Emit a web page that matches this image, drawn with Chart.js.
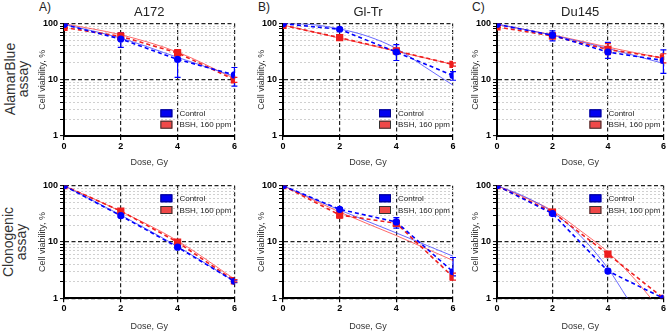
<!DOCTYPE html>
<html lang="en">
<head>
  <meta charset="UTF-8" />
  <title>Cell viability vs dose</title>
  <script src="https://cdn.jsdelivr.net/npm/chart.js"></script>
  <style>
    body {
      margin: 0;
      background: #fff;
      font-family: 'Liberation Sans', Arial, sans-serif;
    }
    #wrap {
      position: relative;
      width: 669px;
      height: 332px;
      overflow: hidden;
    }
    canvas { position: absolute; }
    .letter {
      position: absolute;
      font-size: 12px;
      line-height: 12px;
      color: #222;
    }
    .rowlab {
      position: absolute;
      font-size: 14px;
      line-height: 13px;
      color: #333;
      text-align: center;
      white-space: nowrap;
      transform: translate(-50%, -50%) rotate(-90deg);
    }
  </style>
</head>
<body>
  <div id="wrap">
    <div class="rowlab" style="left:16.5px;top:79px">AlamarBlue<br>assay</div>
    <div class="rowlab" style="left:14.5px;top:242px">Clonogenic<br>assay</div>
  </div>

  <script>
    const doses = [0, 2, 4, 6];
    const seriesNames = ['Control', 'BSH, 160 ppm'];
    const cellLines = ['A172', 'Gl-Tr', 'Du145'];
    const panelLetters = ['A)', 'B)', 'C)'];

    // AlamarBlue assay, viability %
    const abA172Control = [96, 53, 23, 12.2];
    const abA172Bsh = [85, 59, 30, 10];
    const abA172ControlErr = [null, [37.5, 69], [11, 33], [7.7, 16.5]];
    const abA172BshErr = [null, [50, 68], [27, 34.5], [9, 11]];
    const abA172ControlFit = [97, 55, 25, 11.5];
    const abA172BshFit = [99, 63, 31, 10.5];

    const abGlTrControl = [99, 79, 31, 11.9];
    const abGlTrBsh = [93, 56, 32.6, 18.7];
    const abGlTrControlErr = [null, [76, 83], [22, 42], [9.8, 14]];
    const abGlTrBshErr = [null, [53, 59], [29, 36], [17.5, 20]];
    const abGlTrControlFitDoses = [0, 1, 2, 3, 4, 5, 6];
    const abGlTrControlFit = [100, 96, 80, 59, 36, 17, 8];
    const abGlTrBshFit = [94, 55, 32, 18.7];

    const abDu145Control = [96, 62, 31, 22];
    const abDu145Bsh = [87, 60, 34.5, 24.5];
    const abDu145ControlErr = [null, [49, 74], [24, 46], [13, 34]];
    const abDu145BshErr = [null, [53, 67], [28, 44], [20, 29]];
    const abDu145ControlFit = [98, 62, 36, 19.5];
    const abDu145BshFit = [96, 63, 38, 24];

    // Clonogenic assay, viability %
    const clA172Control = [100, 29.3, 8.1, 2.0];
    const clA172Bsh = [100, 35.5, 9.9, 2.05];
    const clA172ControlErr = [null, [27.5, 31], [7.6, 8.6], [1.9, 2.1]];
    const clA172BshErr = [null, [33.5, 37.5], [9.4, 10.4], [1.95, 2.15]];
    const clA172ControlFit = [100, 30, 8.3, 2.0];
    const clA172BshFit = [100, 35, 10.5, 2.2];

    const clGlTrControl = [100, 38, 22.7, 2.96];
    const clGlTrBsh = [100, 30.2, 21.5, 2.4];
    const clGlTrControlErr = [null, [35, 41], [17.6, 27], [2.5, 5.3]];
    const clGlTrBshErr = [null, [26.4, 34.5], [19, 24], [2.1, 2.8]];
    const clGlTrControlFit = [100, 37, 14.5, 5.6];
    const clGlTrBshFit = [100, 34, 13, 4.7];

    const clDu145Control = [100, 32, 3.05, 1];
    const clDu145Bsh = [100, 34, 6.1, 1];
    const clDu145ControlErr = [null, [30, 34], [2.8, 3.3], null];
    const clDu145BshErr = [null, [32, 36], [5.7, 6.5], null];
    const clDu145ControlFitDoses = [0, 1, 2, 3, 4, 4.7];
    const clDu145ControlFit = [100, 64, 34, 13, 3.4, 1];
    const clDu145BshFitDoses = [0, 1, 2, 3, 4, 5, 5.55];
    const clDu145BshFit = [100, 62, 36, 16, 6.6, 2.1, 1];

    const BLUE = 'rgb(0,0,255)';
    const RED = 'rgb(238,30,30)';
    const BLUE_FIT = 'rgba(80,80,255,0.85)';
    const RED_FIT = 'rgba(255,80,80,0.85)';
    const legendFill = ['rgb(0,0,240)', 'rgb(240,72,72)'];
    const legendEdge = ['#00008a', '#333'];

    Chart.defaults.font.family = "'Liberation Sans', Arial, sans-serif";

    const isPow10 = v => Math.abs(Math.log10(v) - Math.round(Math.log10(v))) < 1e-9;
    const isDecadeStep = v => {
      const m = v / Math.pow(10, Math.floor(Math.log10(v) + 1e-9));
      return Math.abs(m - Math.round(m)) < 1e-6;
    };
    const pts = (xs, ys) => xs.map((x, i) => ({ x, y: ys[i] }));

    const errorBars = {
      id: 'errorBars',
      beforeDatasetsDraw(chart) {
        const { ctx, scales: { x, y } } = chart;
        chart.data.datasets.forEach(ds => {
          if (!ds.errors) return;
          ctx.save();
          ctx.strokeStyle = ds.borderColor;
          ctx.lineWidth = 1.2;
          ds.errors.forEach((e, i) => {
            if (!e) return;
            const px = x.getPixelForValue(ds.data[i].x);
            const lo = y.getPixelForValue(e[0]);
            const hi = y.getPixelForValue(e[1]);
            ctx.beginPath();
            ctx.moveTo(px, lo); ctx.lineTo(px, hi);
            ctx.moveTo(px - 3, lo); ctx.lineTo(px + 3, lo);
            ctx.moveTo(px - 3, hi); ctx.lineTo(px + 3, hi);
            ctx.stroke();
          });
          ctx.restore();
        });
      }
    };

    const insideLegend = {
      id: 'insideLegend',
      afterDatasetsDraw(chart, args, opts) {
        const { ctx, chartArea } = chart;
        const bx = chartArea.right - 74;
        const tops = opts.place === 'top'
          ? [chartArea.top + 8.6, chartArea.top + 20.3]
          : [chartArea.bottom - 26.7, chartArea.bottom - 15.3];
        ctx.save();
        seriesNames.forEach((name, i) => {
          ctx.fillStyle = legendFill[i];
          ctx.fillRect(bx, tops[i], 12, 8);
          ctx.strokeStyle = legendEdge[i];
          ctx.lineWidth = 1;
          ctx.strokeRect(bx + 0.5, tops[i] + 0.5, 11, 7);
          ctx.fillStyle = '#222';
          ctx.font = "8px 'Liberation Sans', Arial, sans-serif";
          ctx.textBaseline = 'middle';
          ctx.textAlign = 'left';
          ctx.fillText(name, bx + 19, tops[i] + 4.5);
        });
        ctx.restore();
      }
    };

    function datasetsFor(ctrl, bsh, ctrlErr, bshErr, ctrlFitX, ctrlFit, bshFitX, bshFit) {
      return [
        { label: seriesNames[0], data: pts(doses, ctrl), errors: ctrlErr, order: 1,
          borderColor: BLUE, backgroundColor: BLUE, borderWidth: 1.6, borderDash: [4, 3],
          pointStyle: 'circle', pointRadius: 2.8, pointBackgroundColor: BLUE, pointBorderColor: BLUE },
        { label: seriesNames[1], data: pts(doses, bsh), errors: bshErr, order: 2,
          borderColor: RED, backgroundColor: RED, borderWidth: 1.6, borderDash: [4, 3],
          pointStyle: 'rect', pointRadius: 4, pointBackgroundColor: RED, pointBorderColor: RED },
        { label: 'fit ' + seriesNames[0], data: pts(ctrlFitX, ctrlFit), order: 3, clip: 0,
          borderColor: BLUE_FIT, borderWidth: 1, pointRadius: 0, cubicInterpolationMode: 'monotone' },
        { label: 'fit ' + seriesNames[1], data: pts(bshFitX, bshFit), order: 4, clip: 0,
          borderColor: RED_FIT, borderWidth: 1, pointRadius: 0, cubicInterpolationMode: 'monotone' }
      ];
    }

    const panels = [
      { row: 0, col: 0, ds: datasetsFor(abA172Control, abA172Bsh, abA172ControlErr, abA172BshErr, doses, abA172ControlFit, doses, abA172BshFit) },
      { row: 0, col: 1, ds: datasetsFor(abGlTrControl, abGlTrBsh, abGlTrControlErr, abGlTrBshErr, abGlTrControlFitDoses, abGlTrControlFit, doses, abGlTrBshFit) },
      { row: 0, col: 2, ds: datasetsFor(abDu145Control, abDu145Bsh, abDu145ControlErr, abDu145BshErr, doses, abDu145ControlFit, doses, abDu145BshFit) },
      { row: 1, col: 0, ds: datasetsFor(clA172Control, clA172Bsh, clA172ControlErr, clA172BshErr, doses, clA172ControlFit, doses, clA172BshFit) },
      { row: 1, col: 1, ds: datasetsFor(clGlTrControl, clGlTrBsh, clGlTrControlErr, clGlTrBshErr, doses, clGlTrControlFit, doses, clGlTrBshFit) },
      { row: 1, col: 2, ds: datasetsFor(clDu145Control, clDu145Bsh, clDu145ControlErr, clDu145BshErr, clDu145ControlFitDoses, clDu145ControlFit, clDu145BshFitDoses, clDu145BshFit) }
    ];

    // canvas placement: left edge, width, right padding per column; top, height per row
    const colBox = [{ left: 34, width: 206, padRight: 5.5 }, { left: 253, width: 206, padRight: 6 }, { left: 467, width: 202, padRight: 4 }];
    const rowBox = [{ top: 0, height: 168, padTop: 0, xAxisH: 32 }, { top: 168, height: 164, padTop: 17.7, xAxisH: 33.7 }];

    const wrap = document.getElementById('wrap');

    panelLetters.forEach((t, c) => {
      const d = document.createElement('div');
      d.className = 'letter';
      d.style.left = (colBox[c].left + 5) + 'px';
      d.style.top = '1px';
      d.textContent = t;
      wrap.appendChild(d);
    });

    panels.forEach((p, i) => {
      const cb = colBox[p.col], rb = rowBox[p.row];
      const cv = document.createElement('canvas');
      cv.width = cb.width; cv.height = rb.height;
      cv.style.left = cb.left + 'px'; cv.style.top = rb.top + 'px';
      cv.style.width = cb.width + 'px'; cv.style.height = rb.height + 'px';
      wrap.appendChild(cv);

      new Chart(cv, {
        type: 'line',
        data: { datasets: p.ds },
        options: {
          responsive: false,
          animation: false,
          devicePixelRatio: 1,
          layout: { padding: { top: rb.padTop, right: cb.padRight, left: 0, bottom: 0 } },
          plugins: {
            legend: { display: false },
            tooltip: { enabled: false },
            title: {
              display: p.row === 0,
              text: cellLines[p.col],
              fullSize: false,
              color: '#222',
              font: { size: 13, weight: 'normal' },
              padding: { top: 4.9, bottom: 3 }
            },
            insideLegend: { place: p.row === 0 ? 'bottom' : 'top' }
          },
          scales: {
            x: {
              type: 'linear',
              min: 0,
              max: 6,
              afterFit: s => { s.height = rb.xAxisH; },
              ticks: { stepSize: 2, color: '#000', font: { size: 9, weight: 'bold' }, padding: 1, maxRotation: 0 },
              grid: { color: '#222', lineWidth: 1.2, tickLength: 4, tickColor: '#000', tickWidth: 1.2 },
              border: { color: '#000', width: 2, dash: [4, 2.5] },
              title: { display: true, text: 'Dose, Gy', color: '#333', font: { size: 9 }, padding: { top: 0, bottom: 0 } }
            },
            y: {
              type: 'logarithmic',
              min: 1,
              max: 100,
              afterFit: s => { s.width = 30; },
              afterBuildTicks: s => { s.ticks = s.ticks.filter(t => isDecadeStep(t.value)); },
              ticks: {
                autoSkip: false,
                color: '#000',
                font: { size: 9, weight: 'bold' },
                padding: 2,
                callback: v => isPow10(v) ? String(Math.round(v)) : ''
              },
              grid: {
                color: c => (c.tick && isPow10(c.tick.value)) ? '#222' : '#c4c4c4',
                lineWidth: c => (c.tick && isPow10(c.tick.value)) ? 1.2 : 0.8,
                tickLength: 4,
                tickColor: '#000',
                tickWidth: 1
              },
              border: {
                color: '#000',
                width: 2,
                dash: c => (c.tick && !isPow10(c.tick.value)) ? [2, 2] : [4, 2.5]
              },
              title: { display: true, text: 'Cell viability, %', color: '#333', font: { size: 9 }, padding: { top: 3, bottom: 0 } }
            }
          }
        },
        plugins: [errorBars, insideLegend]
      });
    });
  </script>
</body>
</html>
